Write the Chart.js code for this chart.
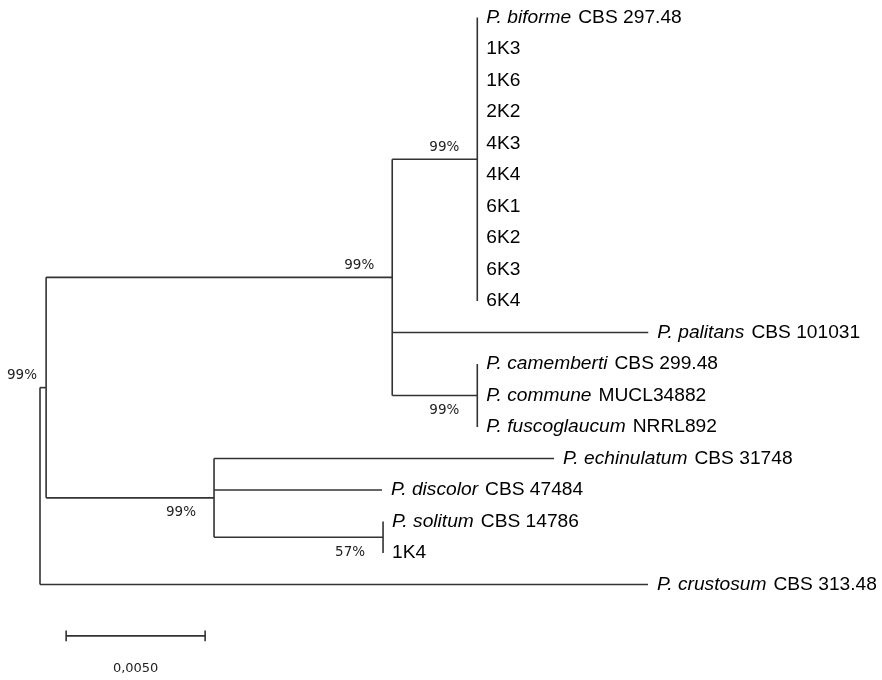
<!DOCTYPE html>
<html>
<head>
<meta charset="utf-8">
<script src="https://cdn.jsdelivr.net/npm/chart.js@4.4.0/dist/chart.umd.min.js"></script>
<style>
    body { margin: 0; background: #fff; }
    #wrap { width: 882px; height: 680px; }
</style>
</head>
<body>
<div id="wrap"><canvas id="arbol" width="882" height="680"></canvas></div>
<script>
// Hojas del árbol, de arriba hacia abajo
const tipSpecies = ['P. biforme', '', '', '', '', '', '', '', '', '',
    'P. palitans', 'P. camemberti', 'P. commune', 'P. fuscoglaucum',
    'P. echinulatum', 'P. discolor', 'P. solitum', '', 'P. crustosum'];
const tipStrain = ['CBS 297.48', '1K3', '1K6', '2K2', '4K3', '4K4', '6K1', '6K2', '6K3', '6K4',
    'CBS 101031', 'CBS 299.48', 'MUCL34882', 'NRRL892',
    'CBS 31748', 'CBS 47484', 'CBS 14786', '1K4', 'CBS 313.48'];
const tipParent = ['bif', 'bif', 'bif', 'bif', 'bif', 'bif', 'bif', 'bif', 'bif', 'bif',
    'B', 'cam', 'cam', 'cam', 'C', 'C', 'sol', 'sol', 'raiz'];
const tipLength = [0, 0, 0, 0, 0, 0, 0, 0, 0, 0,
    0.00921, 0, 0, 0, 0.01223, 0.00604, 0, 0, 0.02187];

// Nodos internos
const nodeId = ['raiz', 'A', 'B', 'bif', 'cam', 'C', 'sol'];
const nodeParent = [null, 'raiz', 'A', 'B', 'B', 'A', 'C'];
const nodeLength = [0, 0.00022, 0.01245, 0.00306, 0.00306, 0.00604, 0.00608];

// Valores de bootstrap
const bootNode = ['bif', 'B', 'cam', 'A', 'C', 'sol'];
const bootValue = ['99%', '99%', '99%', '99%', '99%', '57%'];
const bootSide = ['arriba', 'arriba', 'abajo', 'arriba', 'abajo', 'abajo'];

// Barra de escala
const scaleBarStart = 0.00094;
const scaleBarRow = 19.63;
const scaleBarLength = 0.005;
const scaleBarLabel = '0,0050';

const COLOR_RAMA = '#333333';
const FUENTE_TAXON = '19.2px "Liberation Sans", Arial, sans-serif';
const FUENTE_TAXON_IT = 'italic 19.2px "Liberation Sans", Arial, sans-serif';
const FUENTE_BOOT = '13.5px "DejaVu Sans", Verdana, sans-serif';

// Calcula posiciones (distancia y fila) de cada nodo
let nodeX = {};
let nodeY = {};
function distanciaNodo(id) {
    if (nodeX[id] !== undefined) return nodeX[id];
    const i = nodeId.indexOf(id);
    const p = nodeParent[i];
    nodeX[id] = p ? distanciaNodo(p) + nodeLength[i] : 0;
    return nodeX[id];
}
function hijosDe(id) {
    let lista = [];
    nodeId.forEach((n, i) => { if (nodeParent[i] === id) lista.push({ tipo: 'nodo', id: n }); });
    tipParent.forEach((p, i) => { if (p === id) lista.push({ tipo: 'hoja', i: i }); });
    return lista;
}
function filaNodo(id) {
    if (nodeY[id] !== undefined) return nodeY[id];
    const filas = hijosDe(id).map(h => h.tipo === 'hoja' ? h.i : filaNodo(h.id));
    nodeY[id] = (Math.min(...filas) + Math.max(...filas)) / 2;
    return nodeY[id];
}
nodeId.forEach(n => { distanciaNodo(n); filaNodo(n); });

const tipX = tipLength.map((l, i) => nodeX[tipParent[i]] + l);

// Segmentos del árbol
let segmentos = [];
tipX.forEach((x, i) => {
    segmentos.push([{ x: nodeX[tipParent[i]], y: i }, { x: x, y: i }]);
});
nodeId.forEach((n, i) => {
    if (nodeParent[i]) {
        segmentos.push([{ x: nodeX[nodeParent[i]], y: nodeY[n] }, { x: nodeX[n], y: nodeY[n] }]);
    }
    const filas = hijosDe(n).map(h => h.tipo === 'hoja' ? h.i : nodeY[h.id]);
    segmentos.push([{ x: nodeX[n], y: Math.min(...filas) }, { x: nodeX[n], y: Math.max(...filas) }]);
});
// barra de escala con sus marcas
const finBarra = scaleBarStart + scaleBarLength;
segmentos.push([{ x: scaleBarStart, y: scaleBarRow }, { x: finBarra, y: scaleBarRow }]);
segmentos.push([{ x: scaleBarStart, y: scaleBarRow - 0.17 }, { x: scaleBarStart, y: scaleBarRow + 0.17 }]);
segmentos.push([{ x: finBarra, y: scaleBarRow - 0.17 }, { x: finBarra, y: scaleBarRow + 0.17 }]);

const datasets = segmentos.map(s => ({
    data: s,
    showLine: true,
    borderColor: COLOR_RAMA,
    borderWidth: 1.6,
    pointRadius: 0,
    clip: false
}));

// Dibuja nombres, bootstrap y etiqueta de escala
const textoArbol = {
    id: 'textoArbol',
    afterDatasetsDraw(chart) {
        const ctx = chart.ctx;
        const sx = chart.scales.x;
        const sy = chart.scales.y;
        ctx.save();
        ctx.textBaseline = 'middle';
        ctx.textAlign = 'left';
        ctx.fillStyle = '#000';
        tipStrain.forEach((cepa, i) => {
            let px = sx.getPixelForValue(tipX[i]) + 9;
            const py = sy.getPixelForValue(i);
            if (tipSpecies[i]) {
                ctx.font = FUENTE_TAXON_IT;
                ctx.fillText(tipSpecies[i], px, py);
                px += ctx.measureText(tipSpecies[i]).width + 7;
            }
            ctx.font = FUENTE_TAXON;
            ctx.fillText(cepa, px, py);
        });

        ctx.font = FUENTE_BOOT;
        ctx.fillStyle = '#222';
        bootNode.forEach((n, i) => {
            const w = ctx.measureText(bootValue[i]).width;
            let izq = sx.getPixelForValue(nodeX[n]) - 18 - w;
            if (izq < 7) izq = 7;
            const py = sy.getPixelForValue(nodeY[n]) + (bootSide[i] === 'arriba' ? -12 : 15);
            ctx.fillText(bootValue[i], izq, py);
        });

        ctx.textAlign = 'center';
        ctx.font = '13px "DejaVu Sans", Verdana, sans-serif';
        const cx = sx.getPixelForValue(scaleBarStart + scaleBarLength / 2);
        ctx.fillText(scaleBarLabel, cx, sy.getPixelForValue(scaleBarRow) + 33);
        ctx.restore();
    }
};

function initArbol() {
    const ctx = document.getElementById('arbol').getContext('2d');
    new Chart(ctx, {
        type: 'scatter',
        data: { datasets: datasets },
        options: {
            responsive: false,
            animation: false,
            events: [],
            layout: { padding: 0 },
            plugins: {
                legend: { display: false },
                tooltip: { enabled: false }
            },
            scales: {
                x: { type: 'linear', display: false, min: -0.001439, max: 0.030288 },
                y: { type: 'linear', display: false, reverse: true, min: -0.5556, max: 21.032 }
            }
        },
        plugins: [textoArbol]
    });
}

document.addEventListener('DOMContentLoaded', initArbol);
</script>
</body>
</html>
